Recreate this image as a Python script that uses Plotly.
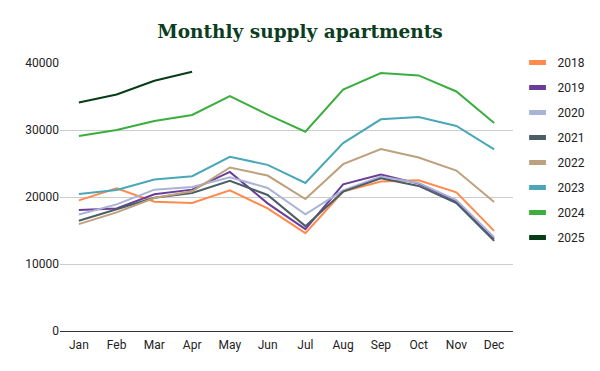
import plotly.graph_objects as go

months = ["Jan", "Feb", "Mar", "Apr", "May", "Jun", "Jul", "Aug", "Sep", "Oct", "Nov", "Dec"]

y2018 = [19500, 21300, 19300, 19100, 21000, 18300, 14600, 20800, 22300, 22500, 20700, 14950]
y2019 = [18050, 18300, 20400, 21100, 23750, 19050, 15200, 21900, 23350, 22000, 19350, 13750]
y2020 = [17400, 18900, 21100, 21500, 22950, 21350, 17400, 21000, 23050, 22100, 19550, 13980]
y2021 = [16450, 18150, 19900, 20600, 22400, 20300, 15650, 20800, 22800, 21650, 19100, 13450]
y2022 = [15950, 17700, 19850, 20850, 24400, 23200, 19700, 24900, 27150, 25900, 23950, 19250]
y2023 = [20450, 21050, 22600, 23100, 26000, 24800, 22100, 28050, 31600, 31950, 30600, 27100]
y2024 = [29100, 30000, 31350, 32250, 35050, 32300, 29750, 36050, 38500, 38150, 35750, 31050]
y2025 = [34100, 35300, 37350, 38700]

series = [
    ("2018", y2018, "#ff8a4c"),
    ("2019", y2019, "#6a3d9a"),
    ("2020", y2020, "#a9b3d6"),
    ("2021", y2021, "#4b5e66"),
    ("2022", y2022, "#bda07c"),
    ("2023", y2023, "#4aa7b7"),
    ("2024", y2024, "#3bae3f"),
    ("2025", y2025, "#063d16"),
]

fig = go.Figure()
for name, vals, color in series:
    fig.add_trace(go.Scatter(
        x=months[:len(vals)], y=vals, mode="lines", name=name,
        line=dict(color=color, width=2), showlegend=False,
        hoverinfo="skip"))
for name, vals, color in series:
    fig.add_trace(go.Scatter(
        x=[None], y=[None], mode="markers", name=name,
        marker=dict(symbol="line-ew-open", size=12, color=color,
                    line=dict(color=color, width=5)),
        legendgroup=name, showlegend=True))

fig.update_layout(
    width=600, height=371,
    margin=dict(l=60, r=87, t=48, b=40, autoexpand=False),
    paper_bgcolor="white", plot_bgcolor="white",
    font=dict(family="Roboto", size=12, color="#222222"),
    title=dict(text="<b>Monthly supply apartments</b>", x=0.5, xref="container",
               y=0.915, yref="container", yanchor="middle",
               font=dict(family="DejaVu Serif", size=18.5, color="#0b3d1e")),
    xaxis=dict(type="category", categoryorder="array", categoryarray=months,
               showgrid=False, showline=False, ticks="", tickfont=dict(size=12, color="#222222"),
               range=[-0.5, 11.5], ticklabelstandoff=5),
    yaxis=dict(range=[0, 40000], dtick=10000, showgrid=True, gridcolor="#cccccc", gridwidth=1,
               zeroline=True, zerolinecolor="#333333", zerolinewidth=1, ticks="",
               tickfont=dict(size=12, color="#222222"), tickformat="d",
               domain=[0, 268 / 283]),
    legend=dict(x=1.01, xanchor="left", y=1.0, yanchor="top", tracegroupgap=6,
                font=dict(size=12, color="#222222"), bgcolor="rgba(0,0,0,0)"),
)

fig.write_html("out.html", config={"displayModeBar": False},
               post_script="document.body.style.margin='0';")
